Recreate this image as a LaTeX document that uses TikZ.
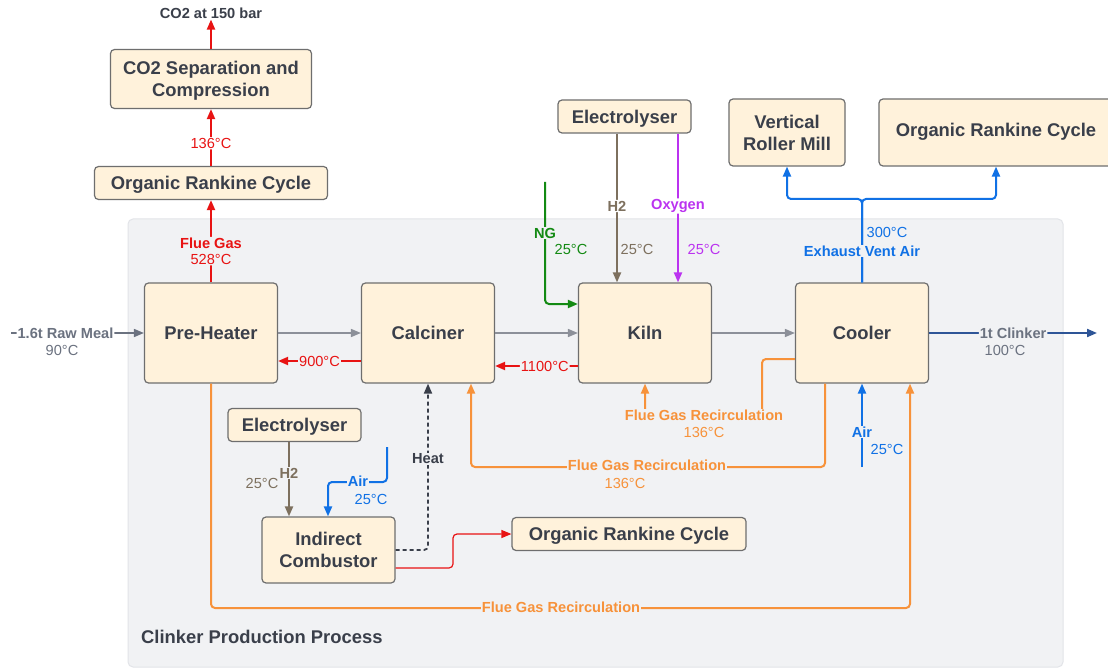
\documentclass[tikz,border=0pt]{standalone}
\usepackage{fontspec}
\setmainfont{Liberation Sans}
\usetikzlibrary{arrows.meta}

\definecolor{boxfill}{HTML}{FFF2DB}
\definecolor{boxline}{HTML}{6E6E6E}
\definecolor{ink}{HTML}{3A3F4A}
\definecolor{panel}{HTML}{F1F2F4}
\definecolor{panelline}{HTML}{E2E4E8}
\definecolor{flue}{HTML}{E81313}
\definecolor{recirc}{HTML}{F7923A}
\definecolor{airblue}{HTML}{1071E5}
\definecolor{clink}{HTML}{2E5597}
\definecolor{feed}{HTML}{6B7280}
\definecolor{flow}{HTML}{8C9099}
\definecolor{hyd}{HTML}{7D705E}
\definecolor{oxy}{HTML}{BB33F0}
\definecolor{ngas}{HTML}{138A13}

\tikzset{
  unit/.style={draw=boxline, fill=boxfill, line width=1.2pt, rounded corners=4pt,
    text=ink, align=center, inner sep=0pt, text depth=0pt,
    font=\fontsize{18.4}{22}\selectfont\bfseries},
  flowline/.style={line width=2pt, rounded corners=4pt,
    -{Triangle[length=10pt,width=8pt]}},
  tag/.style={font=\fontsize{14.6}{16}\selectfont\bfseries, inner sep=1pt},
  temp/.style={font=\fontsize{14.6}{16}\selectfont, inner sep=1pt},
}

\begin{document}
\begin{tikzpicture}[x=1pt,y=-1pt]
\useasboundingbox (0,0) rectangle (1108,668);
\clip (0,0) rectangle (1108,668);
\fill[white] (0,0) rectangle (1108,668);

% process container
\draw[panelline, fill=panel, line width=1pt, rounded corners=5pt] (128,219) rectangle (1063,667);
\node[anchor=west, text=ink, inner sep=0pt, font=\fontsize{18.4}{22}\selectfont\bfseries] (title) at (141,637) {Clinker Production Process};

% units
\node[unit, minimum width=201pt, minimum height=59pt] (sep) at (211,79) {CO2 Separation and\\Compression};
\node[unit, minimum width=233pt, minimum height=33pt] (orcL) at (211,183) {Organic Rankine Cycle};
\node[unit, minimum width=133pt, minimum height=100pt] (pre) at (211,333) {Pre-Heater};
\node[unit, minimum width=133pt, minimum height=100pt] (calc) at (428,333) {Calciner};
\node[unit, minimum width=133pt, minimum height=100pt] (kiln) at (645,333) {Kiln};
\node[unit, minimum width=133pt, minimum height=100pt] (cool) at (862,333) {Cooler};
\node[unit, minimum width=133pt, minimum height=33pt] (elecT) at (624.5,116.5) {Electrolyser};
\node[unit, minimum width=116pt, minimum height=67pt] (vrm) at (787,132.5) {Vertical\\Roller Mill};
\node[unit, minimum width=234pt, minimum height=67pt, text depth=6pt] (orcR) at (996,132.5) {Organic Rankine Cycle};
\node[unit, minimum width=133pt, minimum height=33pt] (elecB) at (294.5,425) {Electrolyser};
\node[unit, minimum width=133pt, minimum height=66pt] (comb) at (328.5,550) {Indirect\\Combustor};
\node[unit, minimum width=234pt, minimum height=33pt] (orcB) at (629,534) {Organic Rankine Cycle};

% free ends and bends
\coordinate (rawin) at (11,333);
\coordinate (clinkout) at (1097,333);
\coordinate (h2x) at (617,0);
\coordinate (oxx) at (678,0);
\coordinate (ngtop) at (545,182);
\coordinate (exj) at (862,199);
\coordinate (airin) at (862,467);
\coordinate (rc1) at (762,414);
\coordinate (rc2a) at (825,467);
\coordinate (rc2b) at (471,467);
\coordinate (rc3a) at (211,608);
\coordinate (rc3b) at (910,608);
\coordinate (heatc) at (428,550);
\coordinate (rkx) at (453,0);
\coordinate (h2b) at (289,0);
\coordinate (air2) at (387,447);
\coordinate (air2b) at (328,482);

% solids route
\draw[flowline, feed, line width=1.6pt] (rawin) -- (pre.west)
  node[tag, pos=0.41, fill=white, text=feed] {1.6t Raw Meal};
\node[temp, text=feed] at (62,350) {90°C};
\draw[flowline, flow, line width=1.6pt] (pre.east) -- (calc.west);
\draw[flowline, flow, line width=1.6pt] (calc.east) -- (kiln.west);
\draw[flowline, flow, line width=1.6pt] (kiln.east) -- (cool.west);
\draw[flowline, clink] (cool.east) -- (clinkout)
  node[tag, midway, fill=panel, text=feed] {1t Clinker};
\node[temp, text=feed] at (1005,350) {100°C};

% hot gas route
\draw[flowline, flue] ([yshift=-28pt]calc.west) -- ([yshift=-28pt]pre.east)
  node[temp, midway, fill=panel, text=flue] {900°C};
\draw[flowline, flue] ([yshift=-33pt]kiln.west) -- ([yshift=-33pt]calc.east)
  node[temp, pos=0.4, fill=panel, text=flue] {1100°C};
\draw[flowline, flue] (pre.north) -- (orcL.south)
  node[temp, pos=0.38, fill=panel, text=flue, align=center] {\textbf{Flue Gas}\\528°C};
\draw[flowline, flue] (orcL.north) -- (sep.south)
  node[temp, pos=0.4, fill=white, text=flue] {136°C};
\node[tag, text=ink] (co2out) at (211,13) {CO2 at 150 bar};
\draw[flowline, flue] (sep.north) -- (co2out.south);

% fuels and oxidant to the kiln
\draw[flowline, hyd] (elecT.south -| h2x) -- (kiln.north -| h2x)
  node[tag, pos=0.487, fill=white, text=hyd] {H2};
\node[temp, text=hyd] at (637,249) {25°C};
\draw[flowline, oxy] (elecT.south -| oxx) -- (kiln.north -| oxx)
  node[tag, pos=0.487, fill=white, text=oxy] {Oxygen};
\node[temp, text=oxy] at (704,249) {25°C};
\draw[flowline, ngas] (ngtop) |- ([yshift=29pt]kiln.west);
\node[tag, fill=panel, text=ngas] at (545,233) {NG};
\node[temp, text=ngas] at (571,249) {25°C};

% cooler air
\draw[flowline, airblue] (cool.north) -- (exj) -| (vrm.south);
\draw[flowline, airblue] (cool.north) -- (exj) -| (orcR.south);
\node[temp, text=airblue] at (887,232) {300°C};
\node[tag, fill=panel, text=airblue] at (862,251) {Exhaust Vent Air};
\draw[flowline, airblue] (airin) -- (cool.south);
\node[tag, fill=panel, text=airblue] at (862,432) {Air};
\node[temp, text=airblue] at (887,449) {25°C};

% flue gas recirculation
\draw[flowline, recirc] ([yshift=-26pt]cool.west) -| (rc1) -| (kiln.south);
\node[tag, fill=panel, text=recirc] at (704,415) {Flue Gas Recirculation};
\node[temp, text=recirc] at (704,432) {136°C};
\draw[flowline, recirc] (cool.south -| rc2a) -- (rc2a) -- (rc2b) -- (calc.south -| rc2b);
\node[tag, fill=panel, text=recirc] at (647,465) {Flue Gas Recirculation};
\node[temp, text=recirc] at (625,483) {136°C};
\draw[flowline, recirc] (pre.south) -- (rc3a) -- (rc3b) -- (cool.south -| rc3b);
\node[tag, fill=panel, text=recirc] at (561,607) {Flue Gas Recirculation};

% indirect combustor
\draw[flowline, ink, line width=1.8pt, dash pattern=on 4pt off 3pt] (comb.east) -- (heatc) -- (calc.south -| heatc);
\node[tag, fill=panel, text=ink] at (428,459) {Heat};
\draw[flue, line width=1.2pt, rounded corners=4pt, -{Triangle[length=10pt,width=8pt]}]
  ([yshift=-18pt]comb.east) -| (rkx |- orcB.west) -- (orcB.west);
\draw[flowline, hyd] (elecB.south -| h2b) -- (comb.north -| h2b);
\node[tag, fill=panel, text=hyd] at (289,473) {H2};
\node[temp, text=hyd] at (262,483) {25°C};
\draw[flowline, airblue] (air2) |- (air2b) -- (comb.north -| air2b);
\node[tag, fill=panel, text=airblue] at (358,481) {Air};
\node[temp, text=airblue] at (371,499) {25°C};
\end{tikzpicture}
\end{document}
